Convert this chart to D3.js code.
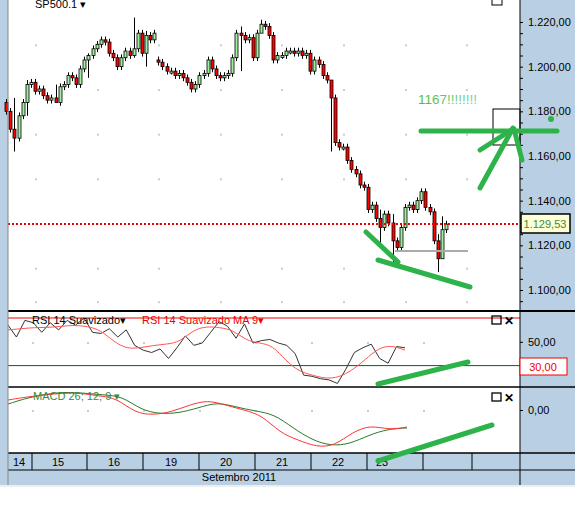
<!DOCTYPE html>
<html><head><meta charset="utf-8">
<script src="https://cdn.jsdelivr.net/npm/d3@7"></script>
<style>body{margin:0;background:#fff}svg{display:block;font-family:"Liberation Sans",Arial,sans-serif}</style>
</head><body><svg id="c" width="575" height="514"></svg>
<script>
// ---- data ----
const closes = [1180,1172,1168,1178,1184,1192,1193,
 1189,1190,1187,1185,1186,1184,1191,1192,1196,1195,1192,1199,1203,1205,1208,
 1210,1212,1211,1206,1204,1200,1204,1207,1205,1208,1215,1206,1214,1212,1215,
 1202,1200,1198,1198,1196,1197,1195,1193,1190,1192,1196,1197,1203,1199,1196,
 1195,1196,1197,1204,1215,1214,1212,1213,1204,1215,1219,1218,1214,1203,1205,
 1205,1207,1207,1206,1207,1205,1206,1198,1203,1201,1196,1194,1186,1166,1164,
 1164,1158,1154,1152,1147,1146,1136,1138,1132,1128,1134,1130,1122,1119,1128,
 1137,1138,1136,1140,1144,1137,1135,1122,1114,1127,1129.5];
const gapOpens = [[0,1184],[37,1203]];
const wicks = [[2,1186,1162],[5,1194,1178],[12,1192,1184],[20,1206,1195],[31,1222,1204],[34,1216,1200],[57,1218,1198],[62,1221,1216],[79,1188,1162],[91,1136,1119],[94,1134,1112],[105,1125,1108],[106,1133,1118]];
const rsi = [64,54,68,66,58,66,60,68,64,70,58,57,61,54,60,47,43,41,44,36,45,55,47,49,58,67,63,53,65,49,51,52,49,47,40,22,21,19,18,15,27,41,45,48,36,32,46,45];
const rsiMA = [60,61,62,62,63,64,63,60,50,44,45,47,48,50,60,63,62,60,51,49,47,34,25,22,19,20,26,35,45,47,43];
const macd = [5,6.5,7.5,8.5,8.5,7,6,-1.5,-2.5,-1,2.5,5,2.5,0,-2.5,-11.5,-15,-18.5,-18,-11,-7.5,-10,-8.5];
const signal = [3,6,8,9,8.5,7.5,7,0,-2,-1.5,1,4,1.5,-0.5,-2,-9,-15,-18,-17,-12.5,-9.5,-9];
const priceTicks = [1220,1200,1180,1160,1140,1120,1100];
const dayLabels = ["14","15","16","19","20","21","22","23"];
const daySeps = [32,87,143,199,255,311,367,423,472];
const lastPrice = 1129.53;

const svg = d3.select("#c");
const L=8, R=520;
const fmt = v => d3.format(",.2f")(v).replace(/,/g,"#").replace(".",",").replace(/#/g,".");
const blue="#b9d0e4", green="#2db34a";

svg.append("rect").attr("x",0).attr("y",0).attr("width",575).attr("height",514).attr("fill","#fff");
svg.append("rect").attr("x",0).attr("y",0).attr("width",L).attr("height",485).attr("fill",blue);
svg.append("rect").attr("x",R).attr("y",0).attr("width",55).attr("height",485).attr("fill",blue);
svg.append("rect").attr("x",L).attr("y",453).attr("width",R-L).attr("height",32).attr("fill",blue);
svg.append("line").attr("x1",0).attr("x2",575).attr("y1",486).attr("y2",486).attr("stroke","#ddd");

const x = d3.scaleLinear().domain([7,107]).range([35,446]);
const y = d3.scaleLinear().domain([1100,1220]).range([290,22]);
const yr = d3.scaleLinear().domain([30,70]).range([365.6,318]);
const ym = d3.scaleLinear().domain([0,10]).range([410,390]);

const gx = [35,97,158,220,281,343,405,466];
[y(1210),y(1190),y(1170),y(1150),y(1130),y(1110),y(1095)].forEach(yy=>gx.forEach(xx=>svg.append("rect").attr("x",xx).attr("y",yy).attr("width",2).attr("height",2).attr("fill","#ccc")));
[342,410].forEach(yy=>[32,87,143,199,255,311,367,423].forEach(xx=>svg.append("rect").attr("x",xx).attr("y",yy).attr("width",2).attr("height",2).attr("fill","#ccc")));

const g = svg.append("g");
closes.forEach((c,i)=>{
  let o = i>0?closes[i-1]:c;
  gapOpens.forEach(([k,v])=>{if(k===i)o=v;});
  let hi=Math.max(o,c)+1.5, lo=Math.min(o,c)-1.5;
  wicks.forEach(([k,h,l])=>{if(k===i){hi=h;lo=l;}});
  const cx=Math.round(x(i))+0.5;
  g.append("line").attr("x1",cx).attr("x2",cx).attr("y1",y(hi)).attr("y2",y(lo)).attr("stroke","#000");
  const top=Math.min(y(o),y(c)), h=Math.max(2,Math.abs(y(o)-y(c)));
  g.append("rect").attr("x",cx-1.5).attr("y",top).attr("width",3).attr("height",h)
   .attr("fill",c>=o?"#9fef9f":"#f00").attr("stroke","#000").attr("stroke-width",0.8);
});

svg.append("line").attr("x1",L).attr("x2",R).attr("y1",y(lastPrice)).attr("y2",y(lastPrice)).attr("stroke","#e00").attr("stroke-width",2).attr("stroke-dasharray","2,2");
svg.append("line").attr("x1",395).attr("x2",468).attr("y1",251).attr("y2",251).attr("stroke","#aaa").attr("stroke-width",2);

const xr = d3.scaleLinear().domain([0,rsi.length-1]).range([8,405]);
const xrm = d3.scaleLinear().domain([0,rsiMA.length-1]).range([8,405]);
svg.append("line").attr("x1",L).attr("x2",R).attr("y1",yr(70)).attr("y2",yr(70)).attr("stroke","#e00");
svg.append("line").attr("x1",L).attr("x2",R).attr("y1",yr(30)).attr("y2",yr(30)).attr("stroke","#060");
svg.append("path").attr("d",d3.line().x((d,i)=>xr(i)).y(d=>yr(d))(rsi)).attr("fill","none").attr("stroke","#333");
svg.append("path").attr("d",d3.line().curve(d3.curveBasis).x((d,i)=>xrm(i)).y(d=>yr(d))(rsiMA)).attr("fill","none").attr("stroke","#f55");
const xm = d3.scaleLinear().domain([0,macd.length-1]).range([8,407]);
const xs = d3.scaleLinear().domain([0,signal.length-1]).range([8,407]);
svg.append("path").attr("d",d3.line().curve(d3.curveBasis).x((d,i)=>xs(i)).y(d=>ym(d))(signal)).attr("fill","none").attr("stroke","#2a7a2a");
svg.append("path").attr("d",d3.line().curve(d3.curveBasis).x((d,i)=>xm(i)).y(d=>ym(d))(macd)).attr("fill","none").attr("stroke","#f33");

[[311,2],[387,1.5],[453,1.5],[470,1]].forEach(([yy,w])=>svg.append("line").attr("x1",L).attr("x2",575).attr("y1",yy).attr("y2",yy).attr("stroke","#000").attr("stroke-width",w));
svg.append("line").attr("x1",R).attr("x2",R).attr("y1",0).attr("y2",485).attr("stroke","#000");
svg.append("line").attr("x1",L).attr("x2",L).attr("y1",0).attr("y2",485).attr("stroke","#888");

const ax = svg.append("g").attr("transform",`translate(${R},0)`);
ax.call(d3.axisRight(y).tickValues(d3.range(1095,1225,5)).tickSize(3).tickFormat(d=>priceTicks.includes(d)?fmt(d):""));
ax.select(".domain").remove();
ax.selectAll("text").attr("x",8).attr("font-size",11).attr("fill","#000").attr("font-family","Liberation Sans, Arial");
ax.selectAll("line").attr("stroke","#000");
const ax2=svg.append("g").attr("transform",`translate(${R},0)`).call(d3.axisRight(yr).tickValues([50]).tickSize(3).tickFormat(d=>fmt(d)));
const ax3=svg.append("g").attr("transform",`translate(${R},0)`).call(d3.axisRight(ym).tickValues([0]).tickSize(3).tickFormat(d=>fmt(d)));
[ax2,ax3].forEach(a=>{a.select(".domain").remove();a.selectAll("text").attr("x",8).attr("font-size",11).attr("fill","#000").attr("font-family","Liberation Sans, Arial");});

svg.append("rect").attr("x",521).attr("y",214).attr("width",49).attr("height",19).attr("fill","#ffffd8").attr("stroke","#000").attr("stroke-width",1.5);
svg.append("text").attr("x",545).attr("y",228).attr("text-anchor","middle").attr("font-size",11).attr("fill","#3a8a3a").text(fmt(lastPrice));
svg.append("rect").attr("x",520).attr("y",358).attr("width",47).attr("height",17).attr("fill","#fff").attr("stroke","#e00");
svg.append("text").attr("x",543).attr("y",371).attr("text-anchor","middle").attr("font-size",11).attr("fill","#e00").text("30,00");

daySeps.forEach(s=>svg.append("line").attr("x1",s).attr("x2",s).attr("y1",453).attr("y2",470).attr("stroke","#000"));
const dayX=[19,58,114,171,226,282,338,382];
dayLabels.forEach((d,i)=>svg.append("text").attr("x",dayX[i]).attr("y",466).attr("text-anchor","middle").attr("font-size",11).text(d));
svg.append("text").attr("x",239).attr("y",481).attr("text-anchor","middle").attr("font-size",11).text("Setembro 2011");

svg.append("text").attr("x",35).attr("y",8).attr("font-size",11).text("SP500.1 ▾");
svg.append("text").attr("x",32).attr("y",324).attr("font-size",11).text("RSI 14 Suavizado▾");
svg.append("text").attr("x",142).attr("y",324).attr("font-size",11).attr("fill","#e00").text("RSI 14 Suavizado MA 9▾");
svg.append("text").attr("x",33).attr("y",400).attr("font-size",11).attr("fill","#3a8a3a").text("MACD 26; 12; 9 ▾");
[316,393].forEach(yy=>{
  svg.append("rect").attr("x",492).attr("y",yy).attr("width",9).attr("height",8).attr("fill","none").attr("stroke","#000").attr("stroke-width",1.3);
  svg.append("text").attr("x",504).attr("y",yy+9).attr("font-size",12).attr("font-weight","bold").text("✕");
});
svg.append("rect").attr("x",492).attr("y",-2).attr("width",10).attr("height",7).attr("fill","none").attr("stroke","#000");

svg.append("rect").attr("x",493).attr("y",109).attr("width",27).attr("height",36).attr("fill","none").attr("stroke","#000");
const grad=svg.append("defs").append("linearGradient").attr("id","tg");
grad.append("stop").attr("offset",0).attr("stop-color","#5cb82e");grad.append("stop").attr("offset",1).attr("stop-color","#6fd8b0");
svg.append("text").attr("x",418).attr("y",104).attr("font-size",13.5).attr("fill","url(#tg)").text("1167!!!!!!!!");
const strokes=[[[421,131],[557,131]],[[480,150],[513,129]],[[480,188],[513,128]],[[522,160],[514,129]],
 [[366,232],[398,262]],[[378,260],[470,287]],[[378,384],[468,362]],[[378,461],[492,425]]];
strokes.forEach(s=>svg.append("path").attr("d",d3.line()(s)).attr("stroke",green).attr("stroke-width",5).attr("stroke-linecap","round").attr("fill","none"));
svg.append("circle").attr("cx",551).attr("cy",119).attr("r",3).attr("fill",green);
</script></body></html>
